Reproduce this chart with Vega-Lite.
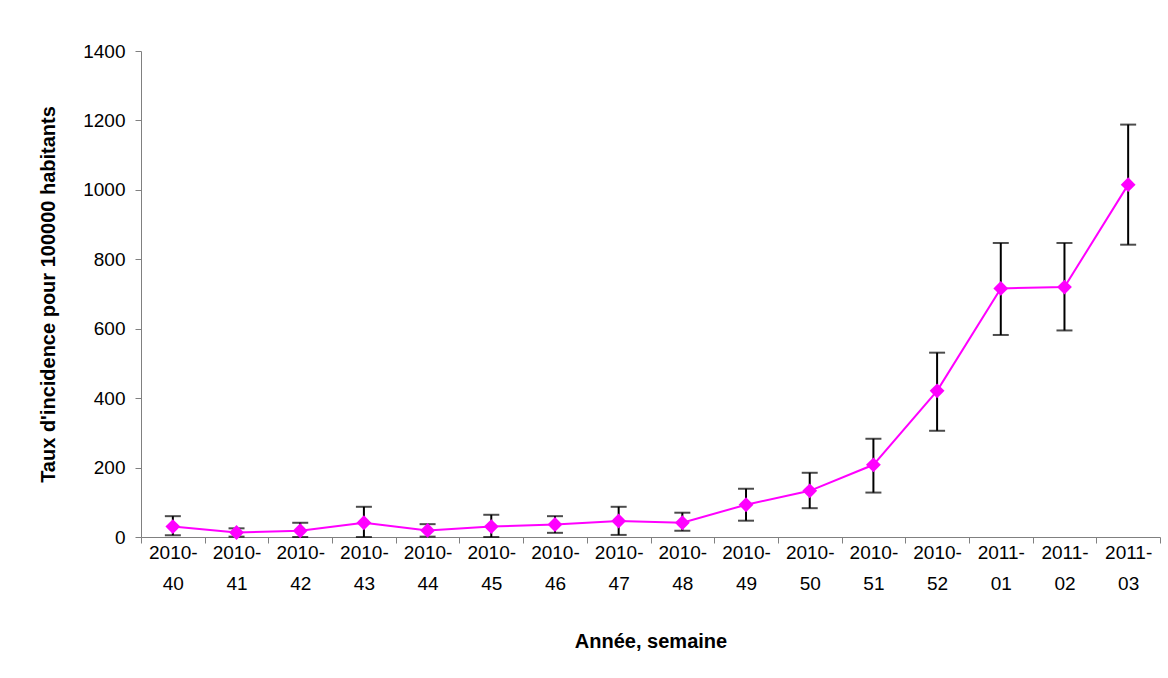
{
  "$schema": "https://vega.github.io/schema/vega-lite/v6.json",
  "autosize": "none",
  "width": 1019,
  "height": 486,
  "padding": {"left": 141, "top": 51, "right": 8, "bottom": 141},
  "background": "white",
  "config": {
    "view": {"stroke": null},
    "font": "Liberation Sans",
    "axis": {
      "grid": false,
      "domainColor": "#808080",
      "tickColor": "#808080",
      "domainWidth": 1,
      "tickWidth": 1,
      "tickSize": 6,
      "labelColor": "black",
      "titleColor": "black",
      "labelFont": "Liberation Sans",
      "titleFont": "Liberation Sans"
    }
  },
  "data": {
    "values": [
      {"week": "2010-40", "value": 30, "lo": 5, "hi": 60},
      {"week": "2010-41", "value": 13, "lo": 1, "hi": 25},
      {"week": "2010-42", "value": 18, "lo": 0, "hi": 41},
      {"week": "2010-43", "value": 41, "lo": 0, "hi": 87},
      {"week": "2010-44", "value": 19, "lo": 1, "hi": 37},
      {"week": "2010-45", "value": 30, "lo": 0, "hi": 64},
      {"week": "2010-46", "value": 36, "lo": 12, "hi": 60},
      {"week": "2010-47", "value": 46, "lo": 6, "hi": 87},
      {"week": "2010-48", "value": 41, "lo": 18, "hi": 70},
      {"week": "2010-49", "value": 93, "lo": 47, "hi": 139},
      {"week": "2010-50", "value": 133, "lo": 83, "hi": 185},
      {"week": "2010-51", "value": 208, "lo": 128, "hi": 283},
      {"week": "2010-52", "value": 421, "lo": 306, "hi": 531},
      {"week": "2011-01", "value": 716, "lo": 582, "hi": 847},
      {"week": "2011-02", "value": 720, "lo": 595, "hi": 847},
      {"week": "2011-03", "value": 1015, "lo": 842, "hi": 1188}
    ]
  },
  "encoding": {
    "x": {
      "field": "week",
      "type": "ordinal",
      "sort": null,
      "scale": {"type": "band", "paddingInner": 0, "paddingOuter": 0},
      "axis": {
        "title": "Année, semaine",
        "titleFontSize": 20,
        "titleFontWeight": "bold",
        "titlePadding": 38,
        "labelAngle": 0,
        "labelFontSize": 19,
        "labelLineHeight": 31,
        "labelPadding": 0,
        "tickBand": "extent",
        "labelExpr": "isString(datum.value) ? [substring(datum.value, 0, 5), substring(datum.value, 5)] : ''"
      }
    },
    "y": {
      "field": "value",
      "type": "quantitative",
      "scale": {"domain": [0, 1400], "nice": false},
      "axis": {
        "title": "Taux d'incidence pour 100000 habitants",
        "titleFontSize": 20,
        "titleFontWeight": "bold",
        "titlePadding": 24,
        "labelFontSize": 19,
        "labelPadding": 10,
        "format": "d",
        "values": [0, 200, 400, 600, 800, 1000, 1200, 1400]
      }
    }
  },
  "layer": [
    {
      "mark": {"type": "rule", "color": "black", "strokeWidth": 2},
      "encoding": {
        "y": {"field": "lo", "type": "quantitative"},
        "y2": {"field": "hi"}
      }
    },
    {
      "mark": {"type": "tick", "color": "black", "thickness": 2, "size": 16},
      "encoding": {"y": {"field": "lo", "type": "quantitative"}}
    },
    {
      "mark": {"type": "tick", "color": "black", "thickness": 2, "size": 16},
      "encoding": {"y": {"field": "hi", "type": "quantitative"}}
    },
    {
      "mark": {"type": "line", "color": "#FF00FF", "strokeWidth": 2},
      "encoding": {}
    },
    {
      "mark": {"type": "point", "shape": "diamond", "filled": true, "color": "#FF00FF", "opacity": 1, "size": 220},
      "encoding": {}
    }
  ]
}
